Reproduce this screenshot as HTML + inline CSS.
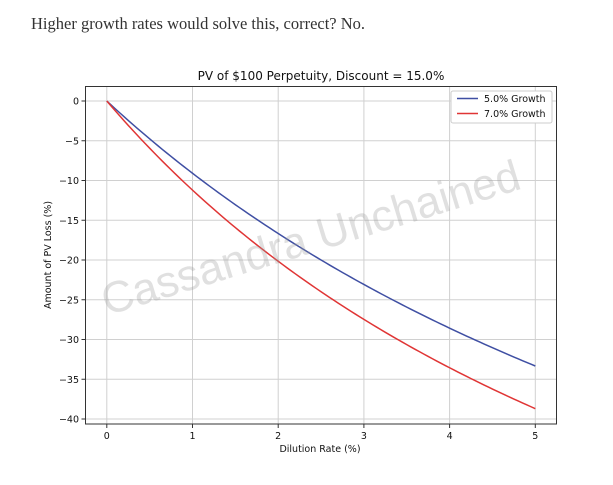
<!DOCTYPE html>
<html><head><meta charset="utf-8"><style>
body{margin:0;background:#fff;width:613px;height:485px;overflow:hidden}
svg{position:absolute;left:0;top:0}
</style></head><body>
<svg width="613" height="485" viewBox="0 0 613 485" font-family="'DejaVu Sans', sans-serif">
<text x="31" y="29" font-family="'Liberation Serif', serif" font-size="16.5" fill="#333">Higher growth rates would solve this, correct? No.</text>
<text x="321" y="80" font-size="12" text-anchor="middle" fill="#111">PV of $100 Perpetuity, Discount = 15.0%</text>
<g id="grid" stroke="#d0d0d0" stroke-width="1"></g>
<g id="plot"></g>
<rect x="85.5" y="86.5" width="471" height="337.5" fill="none" stroke="#333" stroke-width="1"/>
<text x="320" y="452" font-size="9.5" text-anchor="middle" fill="#111">Dilution Rate (%)</text>
<text transform="translate(51,255) rotate(-90)" font-size="9.5" text-anchor="middle" fill="#111">Amount of PV Loss (%)</text>
<text transform="translate(315,252) rotate(-17)" font-size="44" text-anchor="middle" fill="#999" fill-opacity="0.3" font-family="'Liberation Sans',sans-serif">Cassandra Unchained</text>
<g font-size="9.5" fill="#111">
<rect x="451" y="91" width="101" height="32" fill="#fff" stroke="#ccc" rx="2"/>
<line x1="457" y1="98.5" x2="478" y2="98.5" stroke="#3f4fa3" stroke-width="1.5"/>
<text x="484" y="102">5.0% Growth</text>
<line x1="457" y1="113.5" x2="478" y2="113.5" stroke="#e03535" stroke-width="1.5"/>
<text x="484" y="117">7.0% Growth</text>
</g>
</svg>
<script>
const ns="http://www.w3.org/2000/svg",svg=document.querySelector('svg');
const X=d=>106.8+d*85.7,Y=v=>101+v*7.95;
const g=document.getElementById('grid'),p=document.getElementById('plot');
function el(t,a,par){const e=document.createElementNS(ns,t);for(const k in a)e.setAttribute(k,a[k]);par.appendChild(e);return e;}
for(let i=0;i<=5;i++){const x=X(i);el('line',{x1:x,x2:x,y1:86.5,y2:424},g);
el('line',{x1:x,x2:x,y1:424,y2:428,stroke:'#333'},p);
const t=el('text',{x:x,y:439,'font-size':9.5,'text-anchor':'middle',fill:'#111'},p);t.textContent=i;}
for(let v=0;v<=40;v+=5){const y=Y(v);el('line',{x1:85.5,x2:556.5,y1:y,y2:y},g);
el('line',{x1:81.5,x2:85.5,y1:y,y2:y,stroke:'#333'},p);
const t=el('text',{x:79,y:y+3.5,'font-size':9.5,'text-anchor':'end',fill:'#111'},p);t.textContent=v?'\u2212'+v:'0';}
function curve(gr,k,col){let d='';for(let i=0;i<=100;i++){const r=i*0.05;const loss=100*(1-(0.15-gr)/(0.15-gr+r/100*k));d+=(i?'L':'M')+X(r).toFixed(2)+','+Y(loss).toFixed(2);}
el('path',{d:d,fill:'none',stroke:col,'stroke-width':1.5},p);}
curve(0.05,1,'#3f4fa3');curve(0.07,1.01,'#e03535');
</script>
</body></html>
